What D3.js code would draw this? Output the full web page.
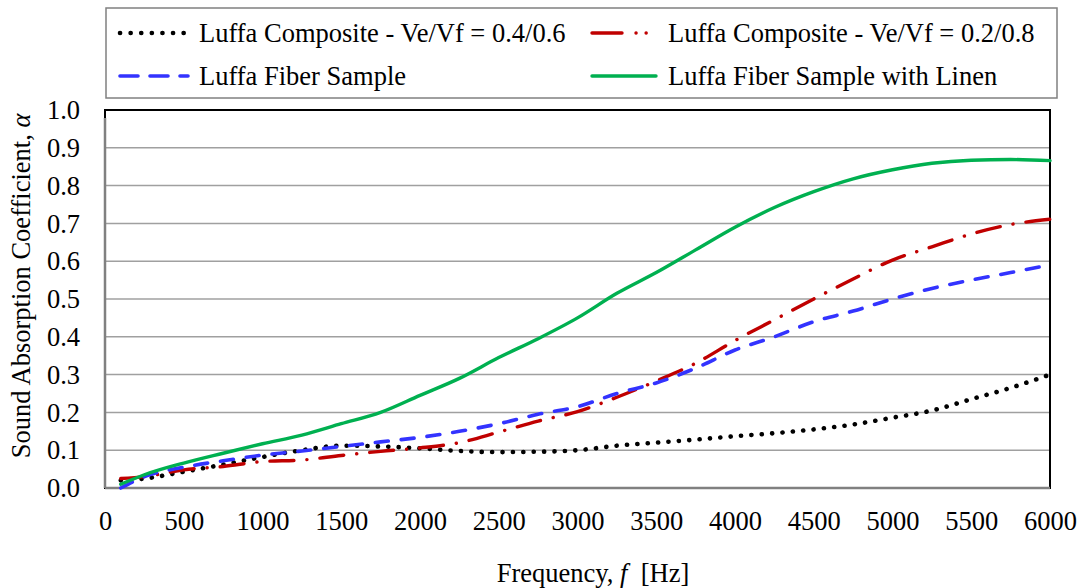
<!DOCTYPE html>
<html><head><meta charset="utf-8">
<script src="https://cdn.jsdelivr.net/npm/d3@7"></script>
<style>body{margin:0;background:#fff}svg{display:block}</style>
</head><body><svg id="c" width="1079" height="588"></svg>
<script>
const freq = [100,250,500,750,1000,1250,1500,1750,2000,2250,2500,2750,3000,3250,3500,3750,4000,4250,4500,4750,5000,5250,5500,5750,6000];
const luffa46 = [0.02,0.025,0.043,0.062,0.082,0.1,0.112,0.11,0.105,0.098,0.095,0.096,0.1,0.112,0.12,0.128,0.137,0.145,0.155,0.168,0.186,0.205,0.235,0.265,0.3];
const luffa28 = [0.025,0.03,0.048,0.057,0.07,0.074,0.086,0.097,0.106,0.12,0.148,0.177,0.202,0.24,0.283,0.33,0.39,0.445,0.5,0.553,0.603,0.638,0.672,0.697,0.711];
const fiber = [0.0,0.03,0.055,0.072,0.087,0.098,0.11,0.122,0.134,0.15,0.17,0.195,0.215,0.25,0.278,0.317,0.365,0.4,0.44,0.468,0.5,0.528,0.55,0.57,0.59];
const linen = [0.01,0.035,0.066,0.092,0.117,0.14,0.17,0.2,0.245,0.29,0.345,0.395,0.45,0.515,0.57,0.63,0.69,0.742,0.784,0.818,0.842,0.859,0.867,0.869,0.866];
const xTicks = [0,500,1000,1500,2000,2500,3000,3500,4000,4500,5000,5500,6000];
const yTicks = [0,0.1,0.2,0.3,0.4,0.5,0.6,0.7,0.8,0.9,1.0];
const seriesNames = ["Luffa Composite - Ve/Vf = 0.4/0.6","Luffa Composite - Ve/Vf = 0.2/0.8","Luffa Fiber Sample","Luffa Fiber Sample with Linen"];

const FONT = "'Liberation Serif'";
const FS = "26.5px";
const svg = d3.select("#c");
const L=105,R=1050,T=110,B=488;
const x = d3.scaleLinear().domain([0,6000]).range([L,R]);
const y = d3.scaleLinear().domain([0,1]).range([B,T]);

svg.append("g").selectAll("line").data(yTicks.filter(v=>v>0&&v<1)).join("line")
  .attr("x1",L).attr("x2",R).attr("y1",d=>y(d)).attr("y2",d=>y(d))
  .attr("stroke","#a0a0a0").attr("stroke-width",1.5);

svg.append("rect").attr("x",L).attr("y",T).attr("width",R-L).attr("height",B-T)
  .attr("fill","none").attr("stroke","#000").attr("stroke-width",2);
svg.append("line").attr("x1",L).attr("x2",L).attr("y1",T+8).attr("y2",B).attr("stroke","#808080").attr("stroke-width",2.5);
svg.append("line").attr("x1",L).attr("x2",R).attr("y1",B).attr("y2",B).attr("stroke","#808080").attr("stroke-width",2.5);

const xa = d3.axisBottom(x).tickValues(xTicks).tickSize(0).tickPadding(0).tickFormat(d3.format("d"));
const gx = svg.append("g").attr("transform",`translate(0,${B})`).call(xa);
gx.select(".domain").remove();
gx.selectAll("text").attr("y",42).attr("dy",0).attr("fill","#000").style("font-family",FONT).style("font-size",FS);
const ya = d3.axisLeft(y).tickValues(yTicks).tickSize(0).tickPadding(0).tickFormat(d3.format(".1f"));
const gy = svg.append("g").attr("transform",`translate(80,0)`).call(ya);
gy.select(".domain").remove();
gy.selectAll("text").attr("x",0).attr("dy","0.33em").attr("fill","#000").style("font-family",FONT).style("font-size",FS);

const xt = svg.append("text").attr("x",593).attr("y",582).attr("text-anchor","middle").style("font-family",FONT).style("font-size",FS).style("white-space","pre");
xt.append("tspan").text("Frequency, ");
xt.append("tspan").style("font-style","italic").text("f");
xt.append("tspan").text("\u00A0 [Hz]");
const yt = svg.append("text").attr("transform","translate(30,286) rotate(-90)").attr("text-anchor","middle").style("font-family",FONT).style("font-size",FS);
yt.append("tspan").text("Sound Absorption Coefficient, ");
yt.append("tspan").style("font-style","italic").text("α");

const styles = [
  {data:luffa46,color:"#000000",dash:"0.1 10.3",w:4.6,cap:"round"},
  {data:luffa28,color:"#c00000",dash:"24 13 0.1 13",w:3.4,cap:"round"},
  {data:fiber,color:"#3333ff",dash:"13 13",w:3.6,cap:"round"},
  {data:linen,color:"#00b050",dash:null,w:3.4,cap:"round"}
];
const line = d3.line().x((d,i)=>x(freq[i])).y(d=>y(d)).curve(d3.curveMonotoneX);
const plot = svg.append("g");
styles.forEach(s=>{
  plot.append("path").attr("d",line(s.data)).attr("fill","none").attr("stroke",s.color)
    .attr("stroke-width",s.w).attr("stroke-linecap",s.cap).attr("stroke-dasharray",s.dash);
});

svg.append("rect").attr("x",106).attr("y",8).attr("width",951).attr("height",90)
  .attr("fill","#fff").attr("stroke","#808080").attr("stroke-width",1.5);
const legPos = [[120,188,199,33],[592,656,668,33],[120,188,199,76],[592,656,668,76]];
const legDash = ["0.1 10.5","30 14 0.1 10 0.1 10","18 12","0"];
styles.forEach((s,i)=>{
  const [x1,x2,tx,yy]=legPos[i];
  svg.append("line").attr("x1",x1).attr("x2",x2).attr("y1",yy).attr("y2",yy).attr("stroke",s.color)
    .attr("stroke-width",s.w).attr("stroke-linecap",s.cap).attr("stroke-dasharray",s.dash?legDash[i]:null);
  svg.append("text").attr("x",tx).attr("y",yy).attr("dy","0.33em").attr("fill","#000").style("font-family",FONT).style("font-size",FS).text(seriesNames[i]);
});
</script></body></html>
